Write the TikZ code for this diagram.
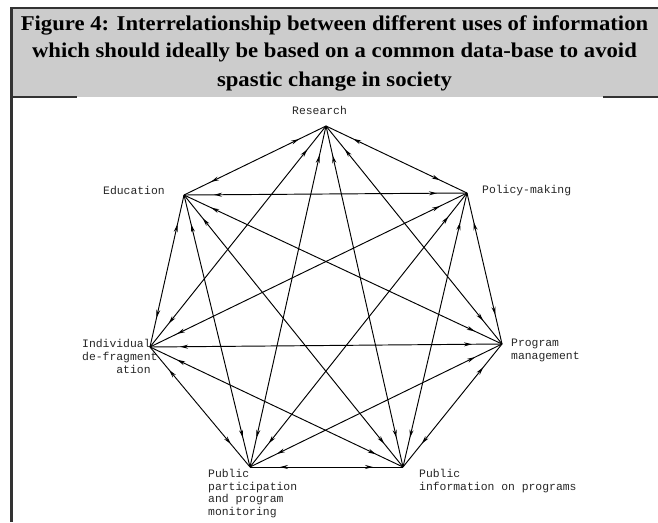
\documentclass[tikz,border=0pt]{standalone}
\usepackage{fontspec}
\setmainfont{Liberation Serif}
\newfontfamily\headfont{Liberation Serif}[FakeStretch=1.08]
\newfontfamily\labfont{Liberation Mono}
\usetikzlibrary{arrows.meta,decorations.markings}
\tikzset{
  frameline/.style={draw=black!80},
  lbl/.style={inner sep=0pt, anchor=base west, text=black!85,
    font=\labfont\fontsize{11.4}{12.8}\selectfont},
  tip/.tip={Stealth[length=8pt,width=4pt]},
  link/.style={draw=black, line width=0.95pt, postaction={decorate},
    decoration={markings,
      mark=at position 30pt with {\arrowreversed{tip}},
      mark=at position -30pt with {\arrow{tip}}}}
}
\begin{document}
\begin{tikzpicture}[x=1pt,y=-1pt]
\useasboundingbox (0,0) rectangle (658,522);
% header
\fill[black!20] (11,8) rectangle (658,97);
\draw[frameline, line width=1.5pt] (11,8) -- (658,8);
\draw[frameline, line width=1.2pt] (11,97) -- (77,97);
\draw[frameline, line width=1.2pt] (603,97) -- (658,97);
\draw[frameline, line width=2.5pt] (11.5,7.3) -- (11.5,522);
\node[inner sep=0pt, anchor=base, font=\headfont\bfseries\fontsize{21}{28}\selectfont] (title) at (334.5,30)
  {\begin{tabular}[t]{@{}c@{}}Figure 4: Interrelationship between different uses of information\\
   which should ideally be based on a common data-base to avoid\\
   spastic change in society\end{tabular}};
% vertices
\node[coordinate] (R) at (326,126) {};
\node[coordinate] (E) at (184,195) {};
\node[coordinate] (P) at (467,193) {};
\node[coordinate] (I) at (150,347) {};
\node[coordinate] (M) at (502,344) {};
\node[coordinate] (Q) at (250,467) {};
\node[coordinate] (F) at (403,467) {};
% labels
\node[lbl] (lR) at (292,114) {Research};
\node[lbl] (lE) at (103,194) {Education};
\node[lbl] (lP) at (482,193.5) {Policy-making};
\node[lbl] (lI) at (82,347.5) {\begin{tabular}[t]{@{}l@{}}Individual\\de-fragment\\\hphantom{de-fr}ation\end{tabular}};
\node[lbl] (lM) at (511,346.5) {\begin{tabular}[t]{@{}l@{}}Program\\management\end{tabular}};
\node[lbl] (lQ) at (208,477.3) {\begin{tabular}[t]{@{}l@{}}Public\\participation\\and program\\monitoring\end{tabular}};
\node[lbl] (lF) at (419,477.3) {\begin{tabular}[t]{@{}l@{}}Public\\information on programs\end{tabular}};
% connectors
\foreach \a/\b in {R/E,R/P,R/I,R/M,R/Q,R/F,E/P,E/I,E/M,E/Q,E/F,P/I,P/M,P/Q,P/F,I/M,I/Q,I/F,M/Q,M/F,Q/F}
  \draw[link] (\a) -- (\b);
\end{tikzpicture}
\end{document}
